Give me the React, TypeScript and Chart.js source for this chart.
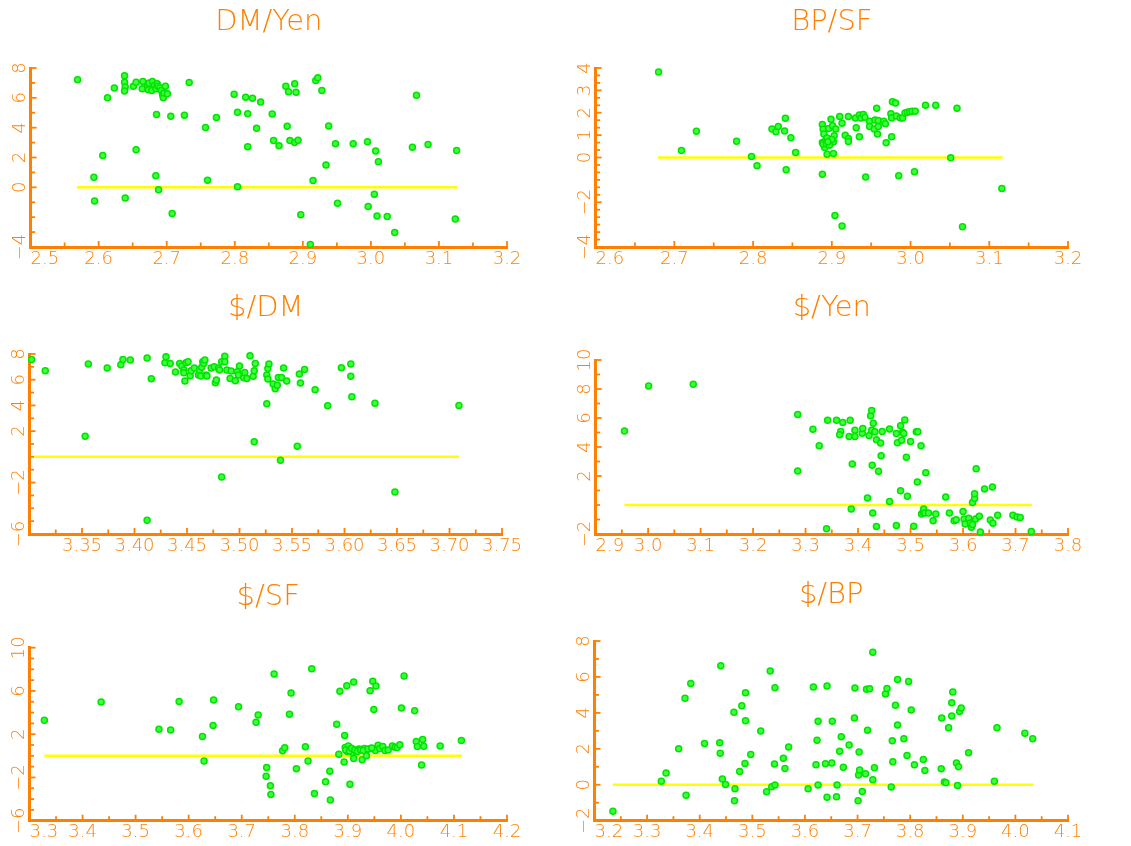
import React, { useEffect, useRef } from 'react';
import { Chart, registerables } from 'chart.js';

Chart.register(...registerables);

const FONT = '"DejaVu Sans", sans-serif';
const ORANGE = '#ff8000';
const YELLOW = '#ffff00';

// ---------- DM/Yen ----------
const dmYenX = [2.569, 2.638, 2.638, 2.639, 2.638, 2.623, 2.613, 2.651, 2.655, 2.665, 2.664, 2.672, 2.674, 2.673, 2.679, 2.678, 2.682, 2.684, 2.686, 2.687, 2.690, 2.692, 2.694, 2.695, 2.696, 2.698, 2.701, 2.733, 2.685, 2.706, 2.726, 2.757, 2.773, 2.606, 2.655, 2.593, 2.594, 2.639, 2.684, 2.688, 2.708, 2.760, 2.799, 2.804, 2.816, 2.826, 2.819, 2.838, 2.832, 2.819, 2.804, 2.855, 2.857, 2.865, 2.875, 2.879, 2.888, 2.890, 2.877, 2.881, 2.888, 2.893, 2.897, 2.911, 2.915, 2.919, 2.922, 2.928, 2.938, 2.934, 2.948, 2.951, 2.974, 2.995, 2.996, 3.005, 3.007, 3.011, 3.009, 3.024, 3.035, 3.061, 3.067, 3.084, 3.126, 3.124];
const dmYenY = [7.22, 7.48, 7.04, 6.73, 6.46, 6.66, 6.01, 6.77, 7.04, 7.10, 6.61, 6.82, 6.99, 6.55, 7.10, 6.50, 6.84, 6.61, 6.95, 6.77, 6.68, 6.50, 6.21, 6.01, 6.33, 6.77, 6.28, 7.02, 4.88, 4.77, 4.83, 4.01, 4.68, 2.14, 2.52, 0.67, -0.91, -0.71, 0.78, -0.16, -1.76, 0.47, 6.24, 5.03, 6.04, 5.97, 4.94, 5.72, 3.96, 2.72, 0.04, 4.92, 3.14, 2.78, 6.77, 6.41, 6.95, 6.37, 4.10, 3.14, 3.01, 3.16, -1.83, -3.83, 0.45, 7.17, 7.35, 6.50, 4.12, 1.49, 2.92, -1.07, 2.92, 3.05, -1.29, -0.47, 2.43, 1.71, -1.92, -1.96, -3.03, 2.69, 6.17, 2.87, 2.47, -2.12];
const dmYenLine = [2.568, 3.127];
const dmYenXLabels = [2.5, 2.6, 2.7, 2.8, 2.9, 3.0, 3.1, 3.2];
const dmYenYLabels = [8, 6, 4, 2, 0, -4];

// ---------- BP/SF ----------
const bpSfX = [2.680, 2.709, 2.728, 2.779, 2.798, 2.805, 2.824, 2.829, 2.832, 2.840, 2.841, 2.842, 2.848, 2.854, 2.888, 2.889, 2.890, 2.888, 2.890, 2.892, 2.891, 2.894, 2.896, 2.899, 2.901, 2.899, 2.903, 2.902, 2.905, 2.894, 2.902, 2.888, 2.904, 2.913, 2.910, 2.913, 2.917, 2.921, 2.921, 2.921, 2.930, 2.931, 2.935, 2.935, 2.937, 2.940, 2.942, 2.943, 2.948, 2.948, 2.954, 2.955, 2.957, 2.958, 2.959, 2.959, 2.966, 2.968, 2.969, 2.975, 2.976, 2.976, 2.977, 2.981, 2.982, 2.985, 2.987, 2.990, 2.993, 2.996, 2.999, 3.002, 3.006, 3.005, 3.019, 3.032, 3.051, 3.059, 3.066, 3.116, 2.889, 2.893, 2.897, 2.900, 2.895];
const bpSfY = [3.82, 0.31, 1.17, 0.73, 0.04, -0.37, 1.27, 1.15, 1.39, 1.18, 1.75, -0.55, 0.88, 0.22, 1.48, 1.26, 1.05, 0.67, 0.57, 0.75, 0.45, 0.87, 1.30, 1.71, 1.42, 0.67, 0.97, 0.70, 1.27, 0.15, 0.18, -0.75, -2.59, -3.06, 1.83, 1.53, 1.00, 0.85, 0.72, 1.83, 1.77, 1.33, 1.90, 0.93, 1.77, 1.92, 1.80, -0.87, 1.62, 1.39, 1.27, 1.68, 2.20, 1.05, 1.38, 1.65, 1.62, 1.51, 0.66, 1.95, 1.77, 0.93, 2.49, 2.44, 1.86, -0.82, 1.77, 1.77, 1.99, 2.02, 2.05, 2.07, 2.07, -0.64, 2.34, 2.34, -0.01, 2.20, -3.10, -1.39, 0.60, 0.62, 0.55, 0.80, 0.70];
const bpSfLine = [2.679, 3.117];
const bpSfXLabels = [2.6, 2.7, 2.8, 2.9, 3.0, 3.1, 3.2];
const bpSfYLabels = [4, 3, 2, 1, 0, -2, -4];

// ---------- $/DM ----------
const usdDmX = [3.302, 3.315, 3.353, 3.356, 3.374, 3.387, 3.389, 3.396, 3.412, 3.416, 3.412, 3.429, 3.430, 3.434, 3.439, 3.443, 3.445, 3.447, 3.447, 3.448, 3.449, 3.451, 3.453, 3.454, 3.457, 3.461, 3.462, 3.463, 3.464, 3.465, 3.466, 3.467, 3.468, 3.469, 3.473, 3.476, 3.477, 3.478, 3.480, 3.481, 3.483, 3.483, 3.486, 3.486, 3.488, 3.491, 3.492, 3.496, 3.498, 3.500, 3.499, 3.504, 3.505, 3.507, 3.510, 3.513, 3.514, 3.514, 3.515, 3.526, 3.526, 3.527, 3.527, 3.528, 3.532, 3.534, 3.536, 3.537, 3.539, 3.540, 3.542, 3.545, 3.555, 3.557, 3.558, 3.562, 3.572, 3.584, 3.597, 3.606, 3.606, 3.607, 3.629, 3.648, 3.709];
const usdDmY = [7.58, 6.70, 1.61, 7.22, 6.91, 7.17, 7.58, 7.53, 7.69, 6.08, -4.94, 7.32, 7.79, 7.27, 6.60, 7.27, 7.06, 6.75, 6.55, 5.90, 7.32, 7.40, 6.31, 6.70, 6.91, 6.36, 6.75, 6.29, 6.96, 7.40, 7.27, 7.53, 6.36, 6.29, 6.91, 7.01, 5.77, 5.97, 6.91, 6.75, 7.40, -1.56, 7.82, 7.40, 6.75, 6.10, 6.68, 5.92, 6.62, 7.06, 6.36, 6.16, 6.57, 6.10, 7.87, 6.26, 6.70, 1.17, 7.27, 6.36, 4.13, 6.05, 6.88, 7.22, 5.66, 5.30, 5.56, 6.18, -0.26, 6.18, 6.91, 5.90, 0.83, 6.44, 5.74, 6.80, 5.22, 3.97, 6.94, 7.22, 6.26, 4.68, 4.16, -2.73, 4.00];
const usdDmLine = [3.302, 3.709];
const usdDmXLabels = [3.35, 3.40, 3.45, 3.50, 3.55, 3.60, 3.65, 3.70, 3.75];
const usdDmYLabels = [8, 6, 4, 2, -2, -6];

// ---------- $/Yen ----------
const usdYenX = [2.955, 3.001, 3.086, 3.285, 3.285, 3.314, 3.326, 3.340, 3.342, 3.359, 3.367, 3.365, 3.371, 3.383, 3.385, 3.387, 3.389, 3.394, 3.394, 3.408, 3.409, 3.418, 3.421, 3.424, 3.426, 3.426, 3.427, 3.428, 3.429, 3.432, 3.435, 3.435, 3.439, 3.443, 3.444, 3.446, 3.460, 3.460, 3.473, 3.475, 3.473, 3.481, 3.481, 3.483, 3.485, 3.487, 3.489, 3.492, 3.494, 3.500, 3.506, 3.511, 3.514, 3.513, 3.520, 3.521, 3.524, 3.525, 3.527, 3.529, 3.534, 3.543, 3.548, 3.567, 3.574, 3.583, 3.587, 3.600, 3.602, 3.604, 3.611, 3.614, 3.616, 3.618, 3.618, 3.622, 3.622, 3.624, 3.625, 3.631, 3.633, 3.641, 3.652, 3.656, 3.657, 3.666, 3.695, 3.703, 3.709, 3.730];
const usdYenY = [5.11, 8.21, 8.33, 6.24, 2.34, 5.23, 4.08, -1.63, 5.85, 5.85, 5.07, 4.84, 5.69, 4.72, 5.85, -0.28, 2.82, 5.16, 4.72, 4.95, 5.28, 0.48, 4.79, 6.15, 6.51, 5.16, 2.75, -0.55, 5.64, 5.05, 4.50, -1.49, 2.32, 4.27, 3.39, 5.07, 5.25, 0.25, 4.93, 4.29, -1.42, 5.46, 0.99, 4.47, 5.02, 4.93, 5.87, 3.30, 0.60, 4.38, -1.47, 5.05, 5.05, 1.58, 4.08, -0.62, -0.50, -0.28, -0.55, 2.22, -0.55, -1.08, -0.62, 0.55, -0.55, -1.08, -1.01, -0.44, -0.96, -1.31, -0.92, -1.24, -1.54, 0.18, -1.35, 0.44, 0.78, -0.96, 2.50, -0.78, -1.86, 1.10, -1.03, 1.24, -1.26, -0.71, -0.71, -0.83, -0.87, -1.83];
const usdYenLine = [2.955, 3.731];
const usdYenXLabels = [2.9, 3.0, 3.1, 3.2, 3.3, 3.4, 3.5, 3.6, 3.7, 3.8];
const usdYenYLabels = [10, 8, 6, 4, 2, -2];

// ---------- $/SF ----------
const usdSfX = [3.328, 3.435, 3.544, 3.566, 3.582, 3.626, 3.629, 3.647, 3.646, 3.694, 3.727, 3.731, 3.747, 3.746, 3.754, 3.755, 3.761, 3.777, 3.781, 3.790, 3.793, 3.803, 3.820, 3.825, 3.832, 3.837, 3.858, 3.866, 3.867, 3.879, 3.883, 3.885, 3.893, 3.894, 3.898, 3.895, 3.899, 3.901, 3.904, 3.905, 3.909, 3.911, 3.911, 3.916, 3.921, 3.927, 3.931, 3.934, 3.935, 3.942, 3.943, 3.947, 3.949, 3.952, 3.953, 3.957, 3.960, 3.966, 3.970, 3.976, 3.984, 3.989, 3.993, 3.998, 4.001, 4.006, 4.026, 4.029, 4.031, 4.039, 4.041, 4.043, 4.074, 4.114, 3.896, 3.903, 3.907, 3.913, 3.918, 3.924, 3.929, 3.938, 3.945];
const usdSfY = [3.29, 4.98, 2.46, 2.40, 5.02, 1.78, -0.49, 5.17, 2.80, 4.55, 3.11, 3.78, -1.08, -1.88, -2.77, -3.57, 7.57, 0.46, 0.74, 3.85, 5.82, -1.20, 0.83, -0.49, 8.06, -3.48, -2.40, -1.42, -4.09, 2.92, 0.15, 5.97, -0.58, 1.88, 6.49, 0.77, 0.40, 0.92, -2.62, 0.62, 0.31, 6.83, -0.25, 0.49, 0.62, -0.37, 0.68, 0.40, 0.00, 6.03, 0.68, 6.89, 4.28, 0.49, 6.46, 0.98, 0.68, 0.86, 0.49, 0.55, 0.92, 0.80, 0.77, 1.02, 4.43, 7.38, 4.18, 1.32, 0.86, -0.86, 1.51, 0.89, 0.92, 1.42, 0.55, 0.45, 0.70, 0.55, 0.40, 0.55, 0.50, 0.62, 0.72];
const usdSfLine = [3.328, 4.115];
const usdSfXLabels = [3.3, 3.4, 3.5, 3.6, 3.7, 3.8, 3.9, 4.0, 4.1, 4.2];
const usdSfYLabels = [10, 6, 2, -2, -6];

// ---------- $/BP ----------
const usdBpX = [3.235, 3.327, 3.336, 3.360, 3.372, 3.374, 3.383, 3.409, 3.438, 3.439, 3.440, 3.443, 3.449, 3.465, 3.466, 3.467, 3.476, 3.480, 3.486, 3.487, 3.487, 3.497, 3.516, 3.527, 3.534, 3.537, 3.542, 3.543, 3.543, 3.559, 3.562, 3.569, 3.606, 3.616, 3.621, 3.623, 3.625, 3.625, 3.639, 3.642, 3.642, 3.651, 3.652, 3.660, 3.661, 3.666, 3.669, 3.673, 3.684, 3.694, 3.695, 3.701, 3.702, 3.703, 3.704, 3.709, 3.715, 3.717, 3.719, 3.723, 3.729, 3.729, 3.732, 3.753, 3.756, 3.764, 3.766, 3.767, 3.772, 3.776, 3.776, 3.788, 3.794, 3.797, 3.802, 3.808, 3.825, 3.828, 3.859, 3.860, 3.865, 3.868, 3.873, 3.879, 3.879, 3.881, 3.888, 3.890, 3.892, 3.894, 3.897, 3.911, 3.960, 3.965, 4.018, 4.033];
const usdBpY = [-1.47, 0.20, 0.65, 2.00, 4.81, -0.59, 5.64, 2.30, 2.34, 1.76, 6.62, 0.32, 0.02, 4.03, -0.89, -0.22, 0.74, 4.40, 1.19, 3.56, 5.12, 1.69, 2.99, -0.39, 6.33, -0.11, 1.15, 5.40, -0.02, 1.48, 0.91, 2.10, -0.22, 5.44, 1.11, 2.47, 3.53, -0.02, 1.17, 5.49, -0.69, 1.21, 3.53, -0.67, -0.02, 1.87, 2.67, 0.98, 2.21, 3.71, 5.38, -0.89, 0.54, 1.82, 0.82, -0.37, 0.61, 5.31, 3.04, 5.34, 7.38, 0.28, 0.95, 5.05, 5.36, -0.13, 2.45, 1.28, 4.43, 5.86, 3.32, 2.56, 1.63, 5.75, 4.16, 1.11, 1.41, 0.80, 0.89, 3.71, 0.15, 0.11, 3.17, 3.82, 4.56, 5.16, 1.21, -0.04, 1.00, 4.08, 4.27, 1.78, 0.20, 3.17, 2.86, 2.56];
const usdBpLine = [3.235, 4.034];
const usdBpXLabels = [3.2, 3.3, 3.4, 3.5, 3.6, 3.7, 3.8, 3.9, 4.0, 4.1];
const usdBpYLabels = [8, 6, 4, 2, 0, -2];

type Spec = {
  title: string;
  xs: number[]; ys: number[]; line: number[];
  xLabels: number[]; yLabels: number[];
  xMin: number; xMax: number; xStep: number; xDec: number; shiftFirst: boolean;
  yMin: number; yMax: number; yStep: number;
  left: number; top: number; w: number; h: number;
  area: { left: number; right: number; top: number; bottom: number };
  titleY: number; xLabelPad: number;
};

const specs: Spec[] = [
  { title: 'DM/Yen', xs: dmYenX, ys: dmYenY, line: dmYenLine, xLabels: dmYenXLabels, yLabels: dmYenYLabels,
    xMin: 2.5, xMax: 3.2, xStep: 0.05, xDec: 1, shiftFirst: true, yMin: -4, yMax: 8, yStep: 1,
    left: 0, top: 0, w: 565, h: 282, area: { left: 29.5, right: 507, top: 68, bottom: 247 }, titleY: 22.7, xLabelPad: 2 },
  { title: 'BP/SF', xs: bpSfX, ys: bpSfY, line: bpSfLine, xLabels: bpSfXLabels, yLabels: bpSfYLabels,
    xMin: 2.6, xMax: 3.2, xStep: 0.05, xDec: 1, shiftFirst: true, yMin: -4, yMax: 4, yStep: 1 / 3,
    left: 565, top: 0, w: 566, h: 282, area: { left: 29.5, right: 503, top: 68, bottom: 247 }, titleY: 22.7, xLabelPad: 2 },
  { title: '$/DM', xs: usdDmX, ys: usdDmY, line: usdDmLine, xLabels: usdDmXLabels, yLabels: usdDmYLabels,
    xMin: 3.3, xMax: 3.75, xStep: 0.025, xDec: 2, shiftFirst: false, yMin: -6, yMax: 8, yStep: 1,
    left: 0, top: 282, w: 565, h: 282, area: { left: 29.5, right: 502, top: 72, bottom: 252 }, titleY: 26.8, xLabelPad: 2 },
  { title: '$/Yen', xs: usdYenX, ys: usdYenY, line: usdYenLine, xLabels: usdYenXLabels, yLabels: usdYenYLabels,
    xMin: 2.9, xMax: 3.8, xStep: 0.05, xDec: 1, shiftFirst: true, yMin: -2, yMax: 10, yStep: 1,
    left: 565, top: 282, w: 566, h: 282, area: { left: 29.5, right: 503, top: 78, bottom: 252 }, titleY: 26.3, xLabelPad: 2 },
  { title: '$/SF', xs: usdSfX, ys: usdSfY, line: usdSfLine, xLabels: usdSfXLabels, yLabels: usdSfYLabels,
    xMin: 3.3, xMax: 4.2, xStep: 0.05, xDec: 1, shiftFirst: true, yMin: -6, yMax: 10, yStep: 1,
    left: 0, top: 564, w: 565, h: 282, area: { left: 29.5, right: 507, top: 83.7, bottom: 256.7 }, titleY: 33, xLabelPad: 0.5 },
  { title: '$/BP', xs: usdBpX, ys: usdBpY, line: usdBpLine, xLabels: usdBpXLabels, yLabels: usdBpYLabels,
    xMin: 3.2, xMax: 4.1, xStep: 0.05, xDec: 1, shiftFirst: true, yMin: -2, yMax: 8, yStep: 1,
    left: 565, top: 564, w: 566, h: 282, area: { left: 29.5, right: 503, top: 77, bottom: 256.7 }, titleY: 31, xLabelPad: 0.5 },
];

function tickValues(min: number, max: number, step: number): number[] {
  const n = Math.round((max - min) / step);
  const out: number[] = [];
  for (let i = 0; i <= n; i++) out.push(min + ((max - min) * i) / n);
  return out;
}

const innerTicks = {
  id: 'innerTicks',
  afterDatasetsDraw(chart: any) {
    const { ctx, chartArea, scales } = chart;
    ctx.save();
    ctx.strokeStyle = ORANGE;
    ctx.lineWidth = 1.8;
    for (const t of scales.x.ticks) {
      const px = scales.x.getPixelForValue(t.value);
      if (px <= chartArea.left + 2) continue;
      const len = String(t.label).trim() ? 6 : 4.5;
      ctx.beginPath();
      ctx.moveTo(px, chartArea.bottom);
      ctx.lineTo(px, chartArea.bottom - len);
      ctx.stroke();
    }
    for (const t of scales.y.ticks) {
      const py = scales.y.getPixelForValue(t.value);
      if (py >= chartArea.bottom - 2) continue;
      const len = String(t.label).trim() ? 6 : 4.5;
      ctx.beginPath();
      ctx.moveTo(chartArea.left, py);
      ctx.lineTo(chartArea.left + len, py);
      ctx.stroke();
    }
    ctx.restore();
  },
};

function buildConfig(s: Spec): any {
  const xT = tickValues(s.xMin, s.xMax, s.xStep);
  const yT = tickValues(s.yMin, s.yMax, s.yStep);
  const tickFont = { family: FONT, size: 18, weight: 200 as any, lineHeight: 1.2 };
  return {
    type: 'scatter',
    data: {
      datasets: [
        {
          data: s.xs.map((x, i) => ({ x, y: s.ys[i] })),
          pointRadius: 3,
          pointBorderWidth: 1.5,
          pointBackgroundColor: '#40ff40',
          pointBorderColor: '#00e400',
          clip: false,
        },
        {
          data: [{ x: s.line[0], y: 0 }, { x: s.line[1], y: 0 }],
          showLine: true,
          pointRadius: 0,
          borderColor: YELLOW,
          borderWidth: 2.5,
        },
      ],
    },
    options: {
      responsive: false,
      animation: false,
      events: [],
      layout: { padding: { left: 0, right: s.w - s.area.right, top: 0, bottom: 0 } },
      plugins: {
        legend: { display: false },
        tooltip: { enabled: false },
        title: {
          display: true,
          text: s.title,
          color: ORANGE,
          fullSize: false,
          font: { family: FONT, size: 29, weight: 200, lineHeight: 1 },
          padding: { top: s.titleY - 14.5, bottom: s.area.top - s.titleY - 14.5 },
        },
      },
      scales: {
        x: {
          type: 'linear',
          min: s.xMin,
          max: s.xMax,
          grid: { display: false, drawTicks: false },
          border: { display: true, color: ORANGE, width: 3 },
          ticks: {
            color: ORANGE,
            font: tickFont,
            padding: s.xLabelPad,
            autoSkip: false,
            maxRotation: 0,
            minRotation: 0,
            callback: (v: number) => {
              const idx = s.xLabels.findIndex((L) => Math.abs(L - v) < 1e-6);
              if (idx < 0) return '';
              const txt = s.xLabels[idx].toFixed(s.xDec);
              return idx === 0 && s.shiftFirst ? '     ' + txt : txt;
            },
          },
          afterBuildTicks: (sc: any) => { sc.ticks = xT.map((value) => ({ value })); },
          afterFit: (sc: any) => { sc.height = s.h - s.area.bottom; },
        },
        y: {
          type: 'linear',
          min: s.yMin,
          max: s.yMax,
          grid: { display: false, drawTicks: false },
          border: { display: true, color: ORANGE, width: 3 },
          ticks: {
            color: ORANGE,
            font: tickFont,
            padding: -3,
            autoSkip: false,
            minRotation: 90,
            maxRotation: 90,
            crossAlign: 'center',
            callback: (v: number) => {
              const L = s.yLabels.find((q) => Math.abs(q - v) < 1e-6);
              if (L === undefined) return '';
              return L < 0 ? '\u2212' + Math.abs(L) : String(L);
            },
          },
          afterBuildTicks: (sc: any) => { sc.ticks = yT.map((value) => ({ value })); },
          afterFit: (sc: any) => { sc.width = s.area.left; },
        },
      },
    },
    plugins: [innerTicks],
  };
}

function Panel({ spec }: { spec: Spec }) {
  const ref = useRef<HTMLCanvasElement | null>(null);
  useEffect(() => {
    if (!ref.current) return;
    const chart = new Chart(ref.current, buildConfig(spec));
    return () => chart.destroy();
  }, [spec]);
  return (
    <canvas
      ref={ref}
      width={spec.w}
      height={spec.h}
      style={{ position: 'absolute', left: spec.left, top: spec.top, width: spec.w, height: spec.h }}
    />
  );
}

export default function App() {
  return (
    <div style={{ position: 'absolute', left: 0, top: 0, width: 1131, height: 846, background: '#ffffff' }}>
      {specs.map((s) => (
        <Panel key={s.title} spec={s} />
      ))}
    </div>
  );
}
